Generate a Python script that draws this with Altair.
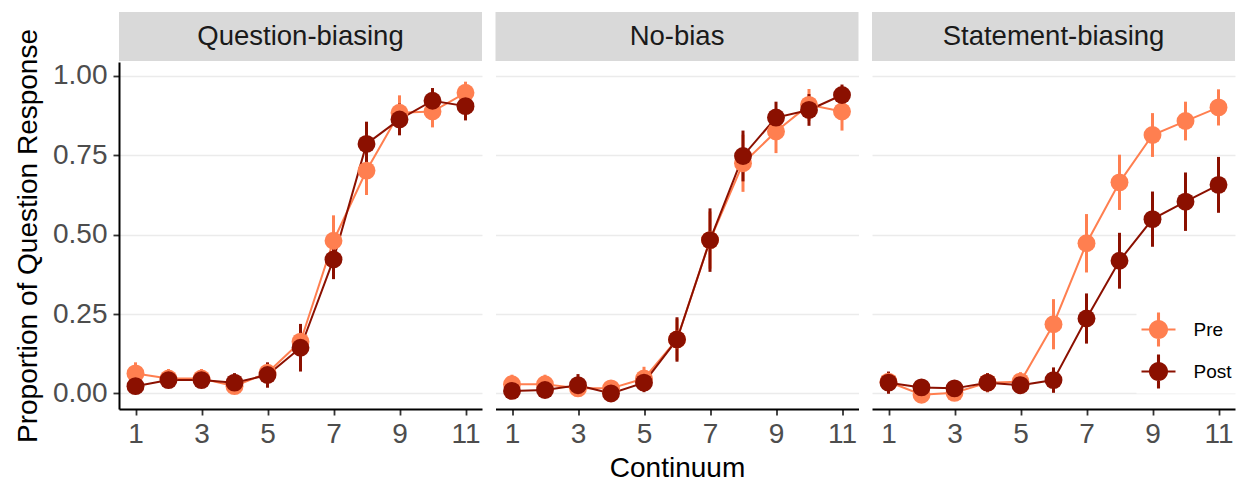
import altair as alt
import pandas as pd

panels = ["Question-biasing", "No-bias", "Statement-biasing"]
times = ["Pre", "Post"]
continuum = list(range(1, 12))

qb_pre = [0.063, 0.047, 0.047, 0.023, 0.065, 0.163, 0.481, 0.702, 0.884, 0.888, 0.947]
qb_post = [0.023, 0.042, 0.042, 0.034, 0.058, 0.144, 0.422, 0.786, 0.863, 0.922, 0.905]
nb_pre = [0.029, 0.029, 0.016, 0.016, 0.047, 0.170, 0.483, 0.725, 0.825, 0.909, 0.888]
nb_post = [0.008, 0.011, 0.026, 0.000, 0.034, 0.170, 0.483, 0.748, 0.869, 0.893, 0.940]
sb_pre = [0.037, -0.004, 0.002, 0.034, 0.037, 0.218, 0.473, 0.665, 0.814, 0.858, 0.901]
sb_post = [0.034, 0.019, 0.016, 0.034, 0.026, 0.042, 0.236, 0.418, 0.549, 0.604, 0.657]

qb_pre_se = [0.035, 0.03, 0.03, 0.02, 0.03, 0.055, 0.08, 0.077, 0.055, 0.05, 0.035]
qb_post_se = [0.025, 0.025, 0.025, 0.03, 0.04, 0.075, 0.062, 0.07, 0.05, 0.04, 0.045]
nb_pre_se = [0.03, 0.03, 0.02, 0.02, 0.037, 0.065, 0.09, 0.09, 0.068, 0.05, 0.06]
nb_post_se = [0.02, 0.02, 0.035, 0.02, 0.03, 0.07, 0.1, 0.08, 0.05, 0.05, 0.033]
sb_pre_se = [0.03, 0.02, 0.02, 0.03, 0.03, 0.079, 0.092, 0.087, 0.069, 0.061, 0.057]
sb_post_se = [0.035, 0.02, 0.02, 0.03, 0.025, 0.04, 0.079, 0.088, 0.087, 0.092, 0.088]

colors = ["#FF7F50", "#8B1000"]

series = {
    ("Question-biasing", "Pre"): (qb_pre, qb_pre_se),
    ("Question-biasing", "Post"): (qb_post, qb_post_se),
    ("No-bias", "Pre"): (nb_pre, nb_pre_se),
    ("No-bias", "Post"): (nb_post, nb_post_se),
    ("Statement-biasing", "Pre"): (sb_pre, sb_pre_se),
    ("Statement-biasing", "Post"): (sb_post, sb_post_se),
}

rows = []
for p in panels:
    for t in times:
        m, s = series[(p, t)]
        for c, v, e in zip(continuum, m, s):
            rows.append({"Condition": p, "Time": t, "Continuum": c,
                         "Proportion": v, "lo": v - e, "hi": v + e})
full = pd.DataFrame(rows)

W, H = 363, 347
FONT = "Liberation Sans"
sym = ("M-1,-0.06H1V0.06H-1Z M-0.09,-1H0.09V1H-0.09Z "
       "M0.56,0A0.56,0.56,0,1,1,-0.56,0A0.56,0.56,0,1,1,0.56,0Z")

cscale = alt.Scale(domain=times, range=colors)
yscale = alt.Scale(domain=[-0.049, 1.044], nice=False, zero=False)
xscale = alt.Scale(domain=[0.5, 11.5], nice=False, zero=False)


def make_panel(i):
    name = panels[i]
    df = full[full.Condition == name]
    base = alt.Chart(df)

    xaxis_kw = dict(values=[1, 3, 5, 7, 9, 11], grid=False, domain=True,
                    domainColor="black", domainWidth=2, ticks=True,
                    tickColor="#333333", tickSize=6, tickWidth=1.8,
                    labelFontSize=28, labelColor="#4D4D4D", labelPadding=5,
                    labelFont=FONT, titleFont=FONT, titleFontSize=28,
                    titleFontWeight="normal", titleColor="black",
                    titlePadding=6)
    if i == 1:
        xaxis = alt.Axis(title="Continuum", **xaxis_kw)
    else:
        xaxis = alt.Axis(title=None, **xaxis_kw)

    if i == 0:
        yaxis = alt.Axis(values=[0, 0.25, 0.5, 0.75, 1.0], format=".2f",
                         title="Proportion of Question Response", grid=True,
                         gridColor="#EBEBEB", gridWidth=1.7, domain=True,
                         domainColor="black", domainWidth=2, ticks=True,
                         tickColor="#333333", tickSize=6, tickWidth=1.8,
                         labelFontSize=28, labelColor="#4D4D4D",
                         labelPadding=6, labelFont=FONT, titleFont=FONT,
                         titleFontSize=28, titleFontWeight="normal",
                         titleColor="black", titlePadding=10)
    else:
        yaxis = alt.Axis(values=[0, 0.25, 0.5, 0.75, 1.0], title=None,
                         grid=True, gridColor="#EBEBEB", gridWidth=1.7,
                         domain=False, ticks=False, labels=False)

    x = alt.X("Continuum:Q", scale=xscale, axis=xaxis)
    y = alt.Y("Proportion:Q", scale=yscale, axis=yaxis)

    strip_df = pd.DataFrame({"Condition": [name]})
    rect = alt.Chart(strip_df).mark_rect(color="#D9D9D9").encode(
        x=alt.value(0), x2=alt.value(W), y=alt.value(-50), y2=alt.value(-1))
    label = alt.Chart(strip_df).mark_text(
        fontSize=27.5, color="#1A1A1A", font=FONT, align="center",
        baseline="alphabetic").encode(
        x=alt.value(W / 2), y=alt.value(-17), text="Condition:N")

    if i == 2:
        leg = alt.Legend(orient="none", legendX=264.5, legendY=245.5,
                         direction="vertical", fillColor="white", padding=5,
                         symbolType=sym, symbolSize=1156, symbolStrokeWidth=0,
                         symbolOpacity=1, labelFontSize=19, labelColor="black",
                         labelFont=FONT, labelOffset=18, rowPadding=8)
        color = alt.Color("Time:N", scale=cscale, legend=leg, title=None)
    else:
        color = alt.Color("Time:N", scale=cscale, legend=None)

    lines = base.mark_line(strokeWidth=2).encode(x=x, y=y, color=color)
    rules = base.mark_rule(strokeWidth=3).encode(
        x=x, y=alt.Y("lo:Q", scale=yscale, axis=yaxis), y2="hi:Q", color=color)
    points = base.mark_circle(size=320, opacity=1).encode(x=x, y=y, color=color)

    return alt.layer(rect, label, lines, rules, points).properties(width=W, height=H)


chart = alt.hconcat(make_panel(0), make_panel(1), make_panel(2), spacing=13.5)
chart = chart.resolve_scale(color="independent").resolve_legend(color="independent")
chart = chart.properties(padding={"left": 14, "top": 12, "right": 0, "bottom": 0},
                         background="white")
chart = chart.configure(font=FONT).configure_view(strokeWidth=0)

chart.save("out.html", embed_options={"renderer": "svg", "actions": False})
